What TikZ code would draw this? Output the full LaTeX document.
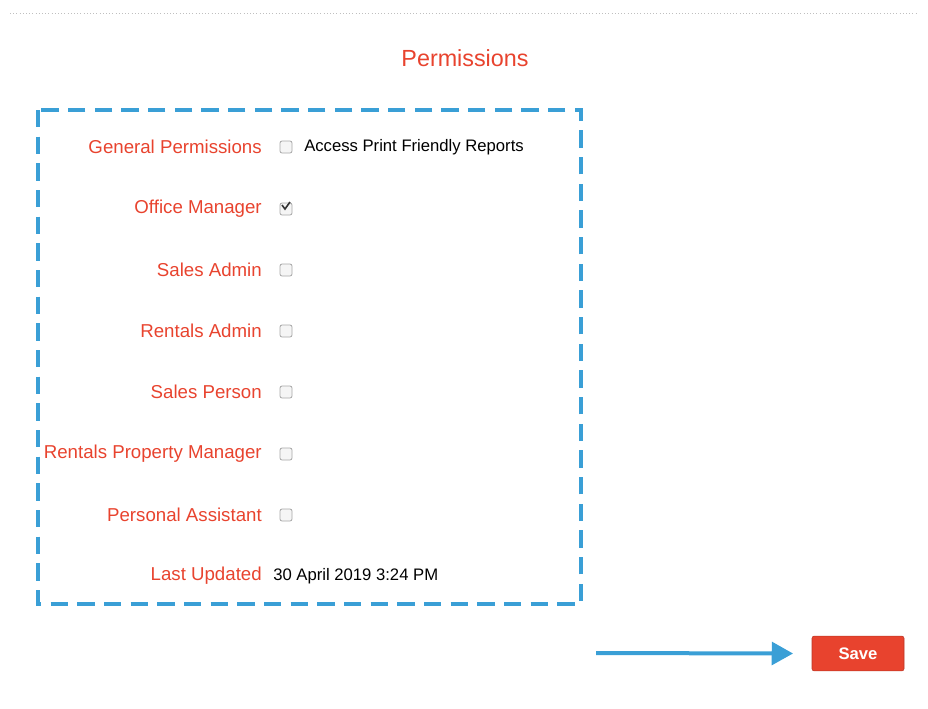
\documentclass[tikz,border=0pt]{standalone}
\usepackage{fontspec}
\setmainfont{Liberation Sans}
\usetikzlibrary{arrows.meta}
\definecolor{pred}{HTML}{E8432E}
\definecolor{pblue}{HTML}{3A9FD6}
\tikzset{
 lbl/.style={anchor=east,text=pred,font=\fontsize{14}{16}\selectfont,inner sep=0pt},
 cbox/.style={draw=gray!70,fill=gray!8,rounded corners=1.5pt,minimum size=9pt,inner sep=0pt,line width=0.6pt},
 val/.style={anchor=west,font=\fontsize{12.5}{15}\selectfont,inner sep=0pt}
}
\begin{document}
\begin{tikzpicture}[x=0.75pt,y=-0.75pt]
\useasboundingbox (0,0) rectangle (928,708);
\draw[gray!50,dotted] (10,13) -- (918,13);
\node[text=pred,font=\fontsize{17.5}{20}\selectfont] (title) at (465,58) {Permissions};
\draw[pblue,line width=3.2pt,dash pattern=on 13pt off 7pt] (38,110) rectangle (581,604);
\node[lbl] (l1) at (262,147) {General Permissions};
\node[lbl] (l2) at (262,209) {Office Manager};
\node[lbl] (l3) at (262,270) {Sales Admin};
\node[lbl] (l4) at (262,331) {Rentals Admin};
\node[lbl] (l5) at (262,392) {Sales Person};
\node[lbl] (l6) at (262,454) {Rentals Property Manager};
\node[lbl] (l7) at (262,515) {Personal Assistant};
\node[lbl] (l8) at (262,576) {Last Updated};
\foreach \y/\n in {147/1,209/2,270/3,331/4,392/5,454/6,515/7}{\node[cbox] (c\n) at (286,\y) {};}
\draw[black!80,line width=1.2pt] (282,205) -- (285,209) -- (290,202);
\node[val] (v1) at (304,147) {Access Print Friendly Reports};
\node[val] (v8) at (273,576) {30 April 2019 3:24 PM};
\node[fill=pred,draw=pred!80!black,rounded corners=1.5pt,minimum width=69pt,minimum height=26pt,text=white,font=\bfseries\fontsize{12.5}{15}\selectfont] (save) at (858,653.5) {Save};
\coordinate (a0) at (596,653);
\draw[pblue,line width=3pt,-{Triangle[length=16pt,width=17pt]}] (a0) -- ([xshift=-14pt]save.west);
\end{tikzpicture}
\end{document}
